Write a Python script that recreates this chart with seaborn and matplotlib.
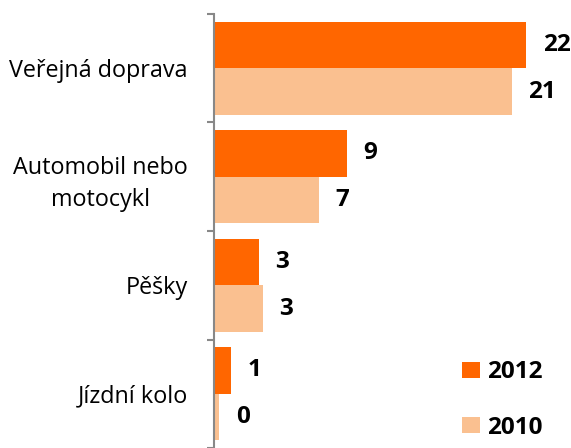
import numpy as np
import pandas as pd
import seaborn as sns
from matplotlib import pyplot as plt

categories = ['Veřejná doprava', 'Automobil nebo\nmotocykl', 'Pěšky', 'Jízdní kolo']
years = ['2012', '2010']
values_2012 = [22.0, 9.35, 3.15, 1.2]
values_2010 = [21.0, 7.4, 3.45, 0.35]
colors = {'2012': '#FF6600', '2010': '#FAC090'}

df = pd.DataFrame({
    'kategorie': categories * 2,
    'rok': ['2012'] * 4 + ['2010'] * 4,
    'hodnota': values_2012 + values_2010,
})

sns.set_style('white')
plt.rcParams['font.family'] = ['Open Sans', 'DejaVu Sans']
plt.rcParams['text.color'] = 'black'
plt.rcParams['ytick.color'] = 'black'

fig = plt.figure(figsize=(5.71, 4.48), dpi=100)
ax = fig.add_axes([214 / 571, 0.0, 1 - 214 / 571, 1 - 14 / 448])

sns.barplot(data=df, y='kategorie', x='hodnota', hue='rok', hue_order=years,
            order=categories, palette=colors, orient='h', width=0.86,
            linewidth=0, saturation=1, ax=ax)

for cont, vals in zip(ax.containers, [values_2012, values_2010]):
    ax.bar_label(cont, labels=[f'{v:.0f}' for v in vals], padding=12,
                 fontsize=17.5, fontweight='bold', color='black')

ax.set_xlim(0, 357 / 14.18)
ax.set_ylim(3.445, -0.5)
ax.set_xlabel('')
ax.set_ylabel('')
ax.set_xticks([])

ax.set_yticks(np.arange(-0.5, 4, 1), minor=True)
ax.tick_params(axis='y', which='minor', length=5, width=1.5, color='#888888', left=True)
ax.tick_params(axis='y', which='major', length=0, pad=19, labelsize=16.8, labelcolor='black')
for lbl in ax.get_yticklabels():
    lbl.set_multialignment('center')
    lbl.set_linespacing(1.45)

for s in ['top', 'right', 'bottom']:
    ax.spines[s].set_visible(False)
ax.spines['left'].set_color('#888888')
ax.spines['left'].set_linewidth(1.5)

handles, labels = ax.get_legend_handles_labels()
ax.legend(handles, labels, loc='center left', bbox_to_anchor=(462 / 571, 1 - 400 / 448),
          bbox_transform=fig.transFigure, frameon=False, borderpad=0, borderaxespad=0,
          handlelength=0.72, handleheight=0.65, handletextpad=0.3, labelspacing=1.3,
          prop={'size': 17.5, 'weight': 'bold'})

fig.savefig('out.png', dpi=100)
